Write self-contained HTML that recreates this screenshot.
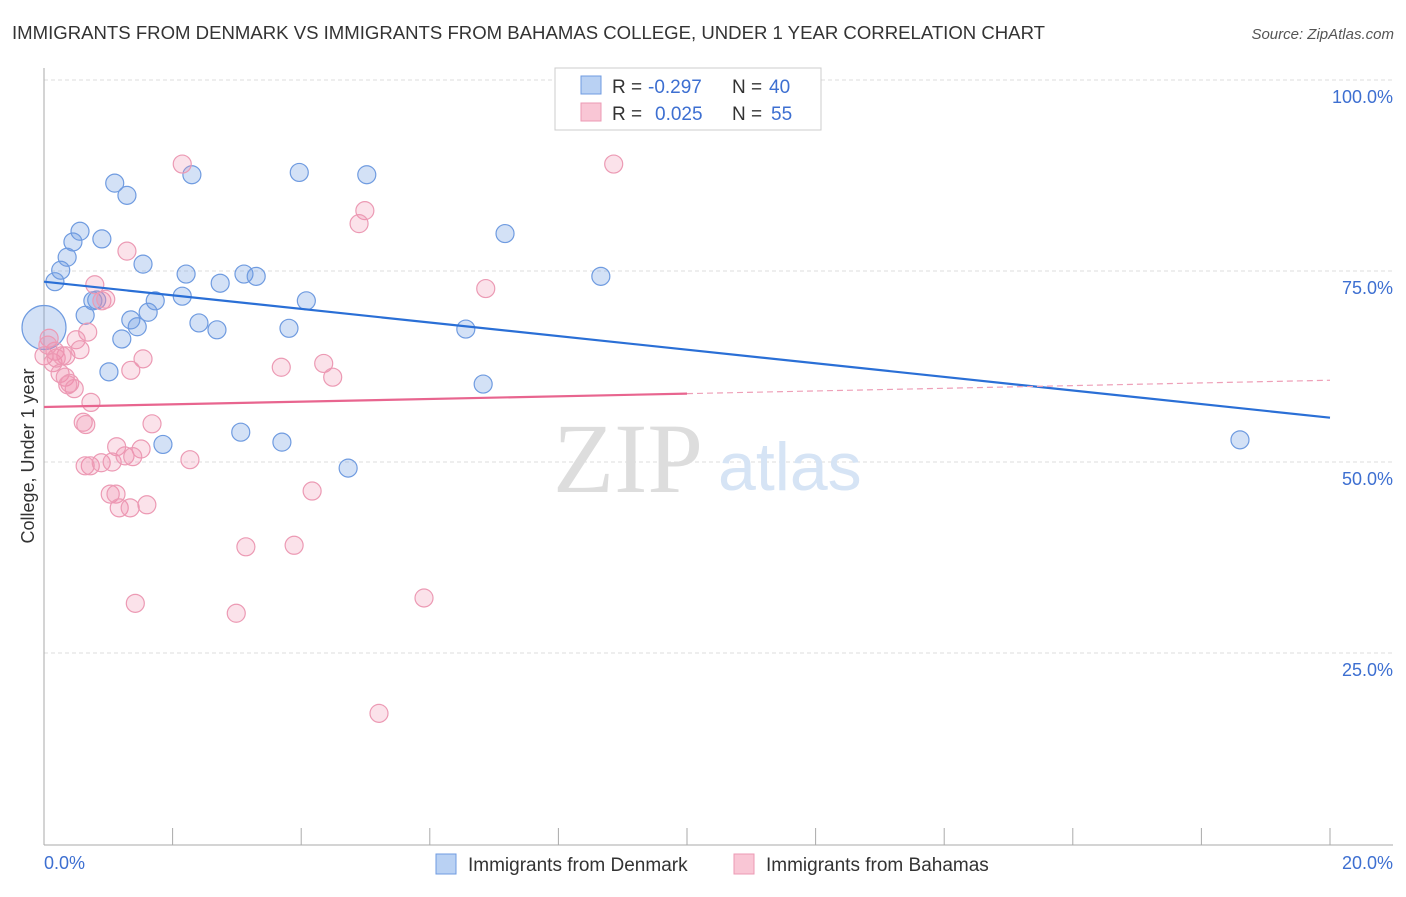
<!DOCTYPE html>
<html><head><meta charset="utf-8"><style>
body{margin:0;background:#fff;}
svg text{font-family:"Liberation Sans",sans-serif;}
</style></head><body>
<svg id="chart" width="1406" height="892">
<text x="12" y="39" font-size="18" fill="#333" textLength="1033" lengthAdjust="spacingAndGlyphs">IMMIGRANTS FROM DENMARK VS IMMIGRANTS FROM BAHAMAS COLLEGE, UNDER 1 YEAR CORRELATION CHART</text>
<text x="1394" y="39" font-size="15" fill="#555" text-anchor="end" font-style="italic">Source: ZipAtlas.com</text>
<g id="grid"></g>
<text x="553" y="492" font-size="100" fill="#ddd" style="font-family:'Liberation Serif',serif">ZIP</text>
<text x="718" y="490" font-size="68" fill="#d6e4f5">atlas</text>
<line x1="44" y1="68" x2="44" y2="845" stroke="#aaa"/>
<line x1="44" y1="845" x2="1393" y2="845" stroke="#aaa"/>
<g id="xticks"></g>
<g id="yticks"></g>
<g id="pts"></g>
<g id="trends"></g>
<text transform="translate(34,456) rotate(-90)" font-size="18" fill="#333" text-anchor="middle">College, Under 1 year</text>
<text x="44" y="869" font-size="18" fill="#3d6fd1">0.0%</text>
<text x="1393" y="869" font-size="18" fill="#3d6fd1" text-anchor="end">20.0%</text>
<g>
<rect x="555" y="68" width="266" height="62" fill="#fff" stroke="#ccc"/>
<rect x="581" y="76" width="20" height="18" fill="#b9d1f3" stroke="#6f9be0"/>
<rect x="581" y="103" width="20" height="18" fill="#f9c6d5" stroke="#ec9ab4"/>
<text x="612" y="93" font-size="19" fill="#333">R =</text>
<text x="648" y="93" font-size="19" fill="#3d6fd1">-0.297</text>
<text x="732" y="93" font-size="19" fill="#333">N =</text>
<text x="769" y="93" font-size="19" fill="#3d6fd1">40</text>
<text x="612" y="120" font-size="19" fill="#333">R =</text>
<text x="655" y="120" font-size="19" fill="#3d6fd1">0.025</text>
<text x="732" y="120" font-size="19" fill="#333">N =</text>
<text x="771" y="120" font-size="19" fill="#3d6fd1">55</text>
</g>
<g><rect x="436" y="854" width="20" height="20" fill="#b9d1f3" stroke="#6f9be0"/><text x="468" y="871" font-size="19" fill="#333">Immigrants from Denmark</text></g>
<g><rect x="734" y="854" width="20" height="20" fill="#f9c6d5" stroke="#ec9ab4"/><text x="766" y="871" font-size="19" fill="#333">Immigrants from Bahamas</text></g>
</svg>
<script>
const yTicks=[25,50,75,100];
const xTickVals=[0,2,4,6,8,10,12,14,16,18,20];
const blueX=[0.0,0.17,0.26,0.36,0.45,0.56,0.9,1.1,1.29,1.54,0.82,0.76,0.64,1.35,1.45,1.62,1.73,1.21,1.01,1.85,2.21,2.3,2.15,2.41,2.69,2.74,3.11,3.3,3.06,3.97,3.81,4.08,3.7,5.02,4.73,6.56,6.83,7.17,8.66,18.6];
const blueY=[67.6,73.6,75.1,76.8,78.8,80.2,79.2,86.5,84.9,75.9,71.2,71.1,69.2,68.6,67.7,69.6,71.1,66.1,61.8,52.3,74.6,87.6,71.7,68.2,67.3,73.4,74.6,74.3,53.9,87.9,67.5,71.1,52.6,87.6,49.2,67.4,60.2,79.9,74.3,52.9];
const blueR=[22,9,9,9,9,9,9,9,9,9,9,9,9,9,9,9,9,9,9,9,9,9,9,9,9,9,9,9,9,9,9,9,9,9,9,9,9,9,9,9];
const pinkX=[2.15,8.86,4.99,4.9,1.29,6.87,0.79,0.9,0.68,0.5,0.08,0.0,0.17,0.14,0.34,0.56,0.25,0.33,0.4,0.47,0.73,0.37,1.54,1.35,3.69,4.35,4.49,0.61,0.65,1.68,1.13,1.51,0.72,0.64,0.89,1.06,1.26,1.38,2.27,4.17,1.03,1.12,1.17,1.34,1.6,3.14,3.89,1.42,2.99,5.91,5.21,0.96,0.19,0.06,0.28];
const pinkY=[89.0,89.0,82.9,81.2,77.6,72.7,73.2,71.1,67.0,66.0,66.2,63.9,64.5,63.0,63.9,64.7,61.6,61.1,60.3,59.6,57.8,60.1,63.5,62.0,62.4,62.9,61.1,55.2,54.9,55.0,52.0,51.7,49.5,49.5,49.9,50.0,50.8,50.7,50.3,46.2,45.8,45.8,44.0,44.0,44.4,38.9,39.1,31.5,30.2,32.2,17.1,71.3,63.6,65.3,63.9];
const blueTrend=[73.6,55.8];
const pinkTrend=[57.2,60.7];
const pinkSolidEnd=10;
const X=p=>44+p*64.3, Y=v=>844-v*7.64;
const NS='http://www.w3.org/2000/svg';
function mk(tag,parent,attrs){const e=document.createElementNS(NS,tag);for(const k in attrs)e.setAttribute(k,attrs[k]);parent.appendChild(e);return e;}
const grid=document.getElementById('grid'),yt=document.getElementById('yticks'),xt=document.getElementById('xticks'),pts=document.getElementById('pts'),tr=document.getElementById('trends');
yTicks.forEach(v=>{
 const l=mk('line',grid,{x1:44,x2:1393,y1:Y(v),y2:Y(v),stroke:'#ddd','stroke-dasharray':'4,3'});
 
 
 const t=mk('text',yt,{x:1393,y:Y(v)+23,'font-size':18,fill:'#3d6fd1','text-anchor':'end'});
 t.textContent=v.toFixed(1)+'%';
 
 
});
xTickVals.forEach(v=>{
 const l=mk('line',xt,{x1:X(v),x2:X(v),y1:828,y2:845,stroke:'#aaa'});
 
 
});
blueX.forEach((x,i)=>{
 const c=mk('circle',pts,{cx:X(x),cy:Y(blueY[i]),r:blueR[i],fill:'rgba(110,155,225,0.3)',stroke:'#6f9be0','stroke-width':1.2});
 
 
});
pinkX.forEach((x,i)=>{
 const c=mk('circle',pts,{cx:X(x),cy:Y(pinkY[i]),r:9,fill:'rgba(240,140,170,0.25)',stroke:'#ec9ab4','stroke-width':1.2});
 
 
});
const b=mk('line',tr,{x1:X(0),y1:Y(blueTrend[0]),x2:X(20),y2:Y(blueTrend[1]),stroke:'#2a6fd6','stroke-width':2.2});


const pm=pinkTrend[0]+(pinkTrend[1]-pinkTrend[0])*pinkSolidEnd/20;
const p1=mk('line',tr,{x1:X(0),y1:Y(pinkTrend[0]),x2:X(pinkSolidEnd),y2:Y(pm),stroke:'#e8658f','stroke-width':2.2});


const p2=mk('line',tr,{x1:X(pinkSolidEnd),y1:Y(pm),x2:X(20),y2:Y(pinkTrend[1]),stroke:'#eea0b8','stroke-width':1.2,'stroke-dasharray':'6,4'});


</script>
</body></html>
